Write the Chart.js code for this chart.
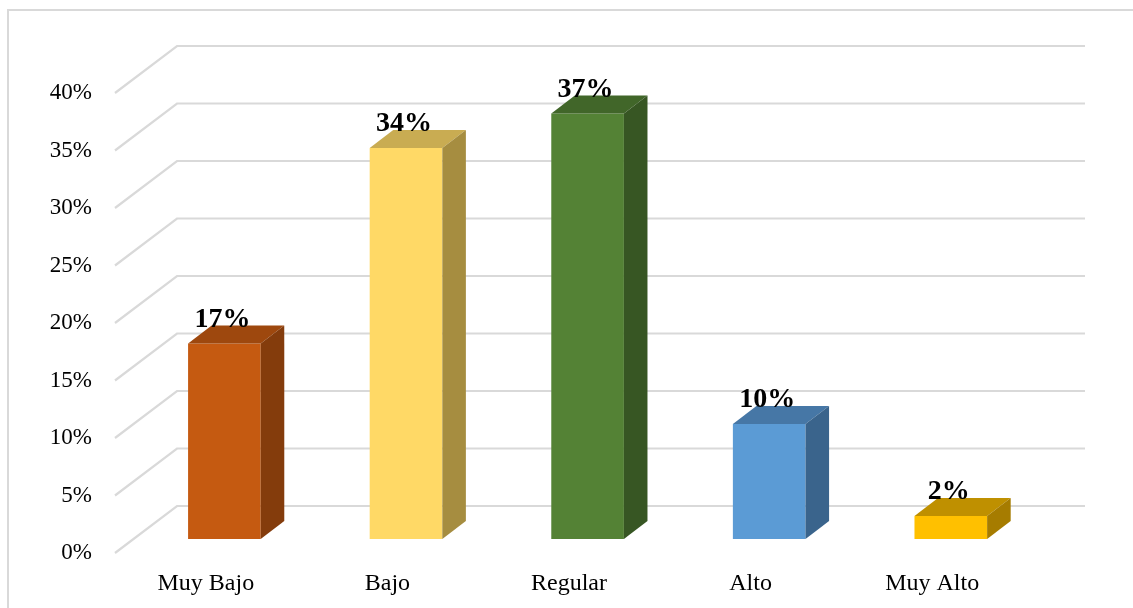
<!DOCTYPE html>
<html>
<head>
<meta charset="utf-8">
<script src="https://cdn.jsdelivr.net/npm/chart.js@4/dist/chart.umd.min.js"></script>
<style>
  html, body { margin: 0; padding: 0; background: #ffffff; overflow: hidden; }
  #wrap { position: relative; width: 1133px; height: 608px; }
  #frame { position: absolute; left: 7px; top: 9px; width: 1140px; height: 620px;
           border-left: 2px solid #d9d9d9; border-top: 2px solid #d9d9d9; box-sizing: border-box; }
  canvas { position: absolute; left: 0; top: 0; }
</style>
</head>
<body>
<div id="wrap">
  <div id="frame"></div>
  <canvas id="c" width="1133" height="608"></canvas>
</div>
<script>
// ---- data ----
const categories = ['Muy Bajo', 'Bajo', 'Regular', 'Alto', 'Muy Alto'];
const values = [17, 34, 37, 10, 2];
const tickLabels = ['0%', '5%', '10%', '15%', '20%', '25%', '30%', '35%', '40%'];
const frontColors = ['#C55A11', '#FFD966', '#548235', '#5B9BD5', '#FFC000'];
const topColors   = ['#9E480E', '#C9AC52', '#416629', '#4677A6', '#BF9000'];
const sideColors  = ['#843C0C', '#A68D40', '#375623', '#3A648C', '#A67C00'];

// ---- 3D geometry (depth vector of the plot box) ----
const DEPTH_X = 62, DEPTH_Y = -47;
const BAR_Z0 = 0.30, BAR_DZ = 0.38;

const threeD = {
  id: 'threeD',
  beforeDatasetsDraw(chart) {
    const ctx = chart.ctx;
    const ys = chart.scales.y;
    const area = chart.chartArea;
    ctx.save();
    ctx.strokeStyle = '#d9d9d9';
    ctx.lineWidth = 2.2;
    ys.ticks.forEach(t => {
      const y = ys.getPixelForValue(t.value);
      ctx.beginPath();
      ctx.moveTo(area.left, y);
      ctx.lineTo(area.left + DEPTH_X, y + DEPTH_Y);
      ctx.lineTo(area.right + DEPTH_X, y + DEPTH_Y);
      ctx.stroke();
    });
    ctx.restore();
    ctx.save();
    ctx.translate(DEPTH_X * BAR_Z0, DEPTH_Y * BAR_Z0);
  },
  afterDatasetsDraw(chart) {
    const ctx = chart.ctx;
    const dx = DEPTH_X * BAR_DZ, dy = DEPTH_Y * BAR_DZ;
    const meta = chart.getDatasetMeta(0);
    meta.data.forEach((bar, i) => {
      const p = bar.getProps(['x', 'y', 'base', 'width'], true);
      const l = p.x - p.width / 2, r = p.x + p.width / 2;
      // top face
      ctx.fillStyle = topColors[i];
      ctx.beginPath();
      ctx.moveTo(l, p.y); ctx.lineTo(r, p.y);
      ctx.lineTo(r + dx, p.y + dy); ctx.lineTo(l + dx, p.y + dy);
      ctx.closePath(); ctx.fill();
      // side face
      ctx.fillStyle = sideColors[i];
      ctx.beginPath();
      ctx.moveTo(r, p.y); ctx.lineTo(r + dx, p.y + dy);
      ctx.lineTo(r + dx, p.base + dy); ctx.lineTo(r, p.base);
      ctx.closePath(); ctx.fill();
      // data label
      ctx.fillStyle = '#000000';
      ctx.font = 'bold 28px "Liberation Serif", "Times New Roman", serif';
      ctx.textAlign = 'center';
      ctx.textBaseline = 'alphabetic';
      ctx.fillText(values[i] + '%', p.x - 2, p.y + dy + 1);
    });
    ctx.restore();
  }
};

new Chart(document.getElementById('c'), {
  type: 'bar',
  data: {
    labels: categories,
    datasets: [{
      data: values,
      backgroundColor: frontColors,
      borderWidth: 0,
      barPercentage: 0.4,
      categoryPercentage: 1.0,
      clip: false
    }]
  },
  options: {
    responsive: false,
    animation: false,
    events: [],
    layout: { padding: { top: 93, right: 110, left: 0, bottom: 0 } },
    plugins: { legend: { display: false }, tooltip: { enabled: false } },
    scales: {
      x: {
        grid: { display: false, drawTicks: false },
        border: { display: false },
        ticks: {
          color: '#000000',
          padding: 16,
          font: { family: '"Liberation Serif", "Times New Roman", serif', size: 24 }
        },
        afterFit(scale) { scale.height = 55; }
      },
      y: {
        min: 0, max: 40,
        grid: { display: false, drawTicks: false },
        border: { display: false },
        ticks: {
          stepSize: 5,
          color: '#000000',
          padding: 23,
          font: { family: '"Liberation Serif", "Times New Roman", serif', size: 23 },
          callback: (v) => tickLabels[Math.round(v / 5)]
        },
        afterFit(scale) { scale.width = 115; }
      }
    }
  },
  plugins: [threeD]
});
</script>
</body>
</html>
